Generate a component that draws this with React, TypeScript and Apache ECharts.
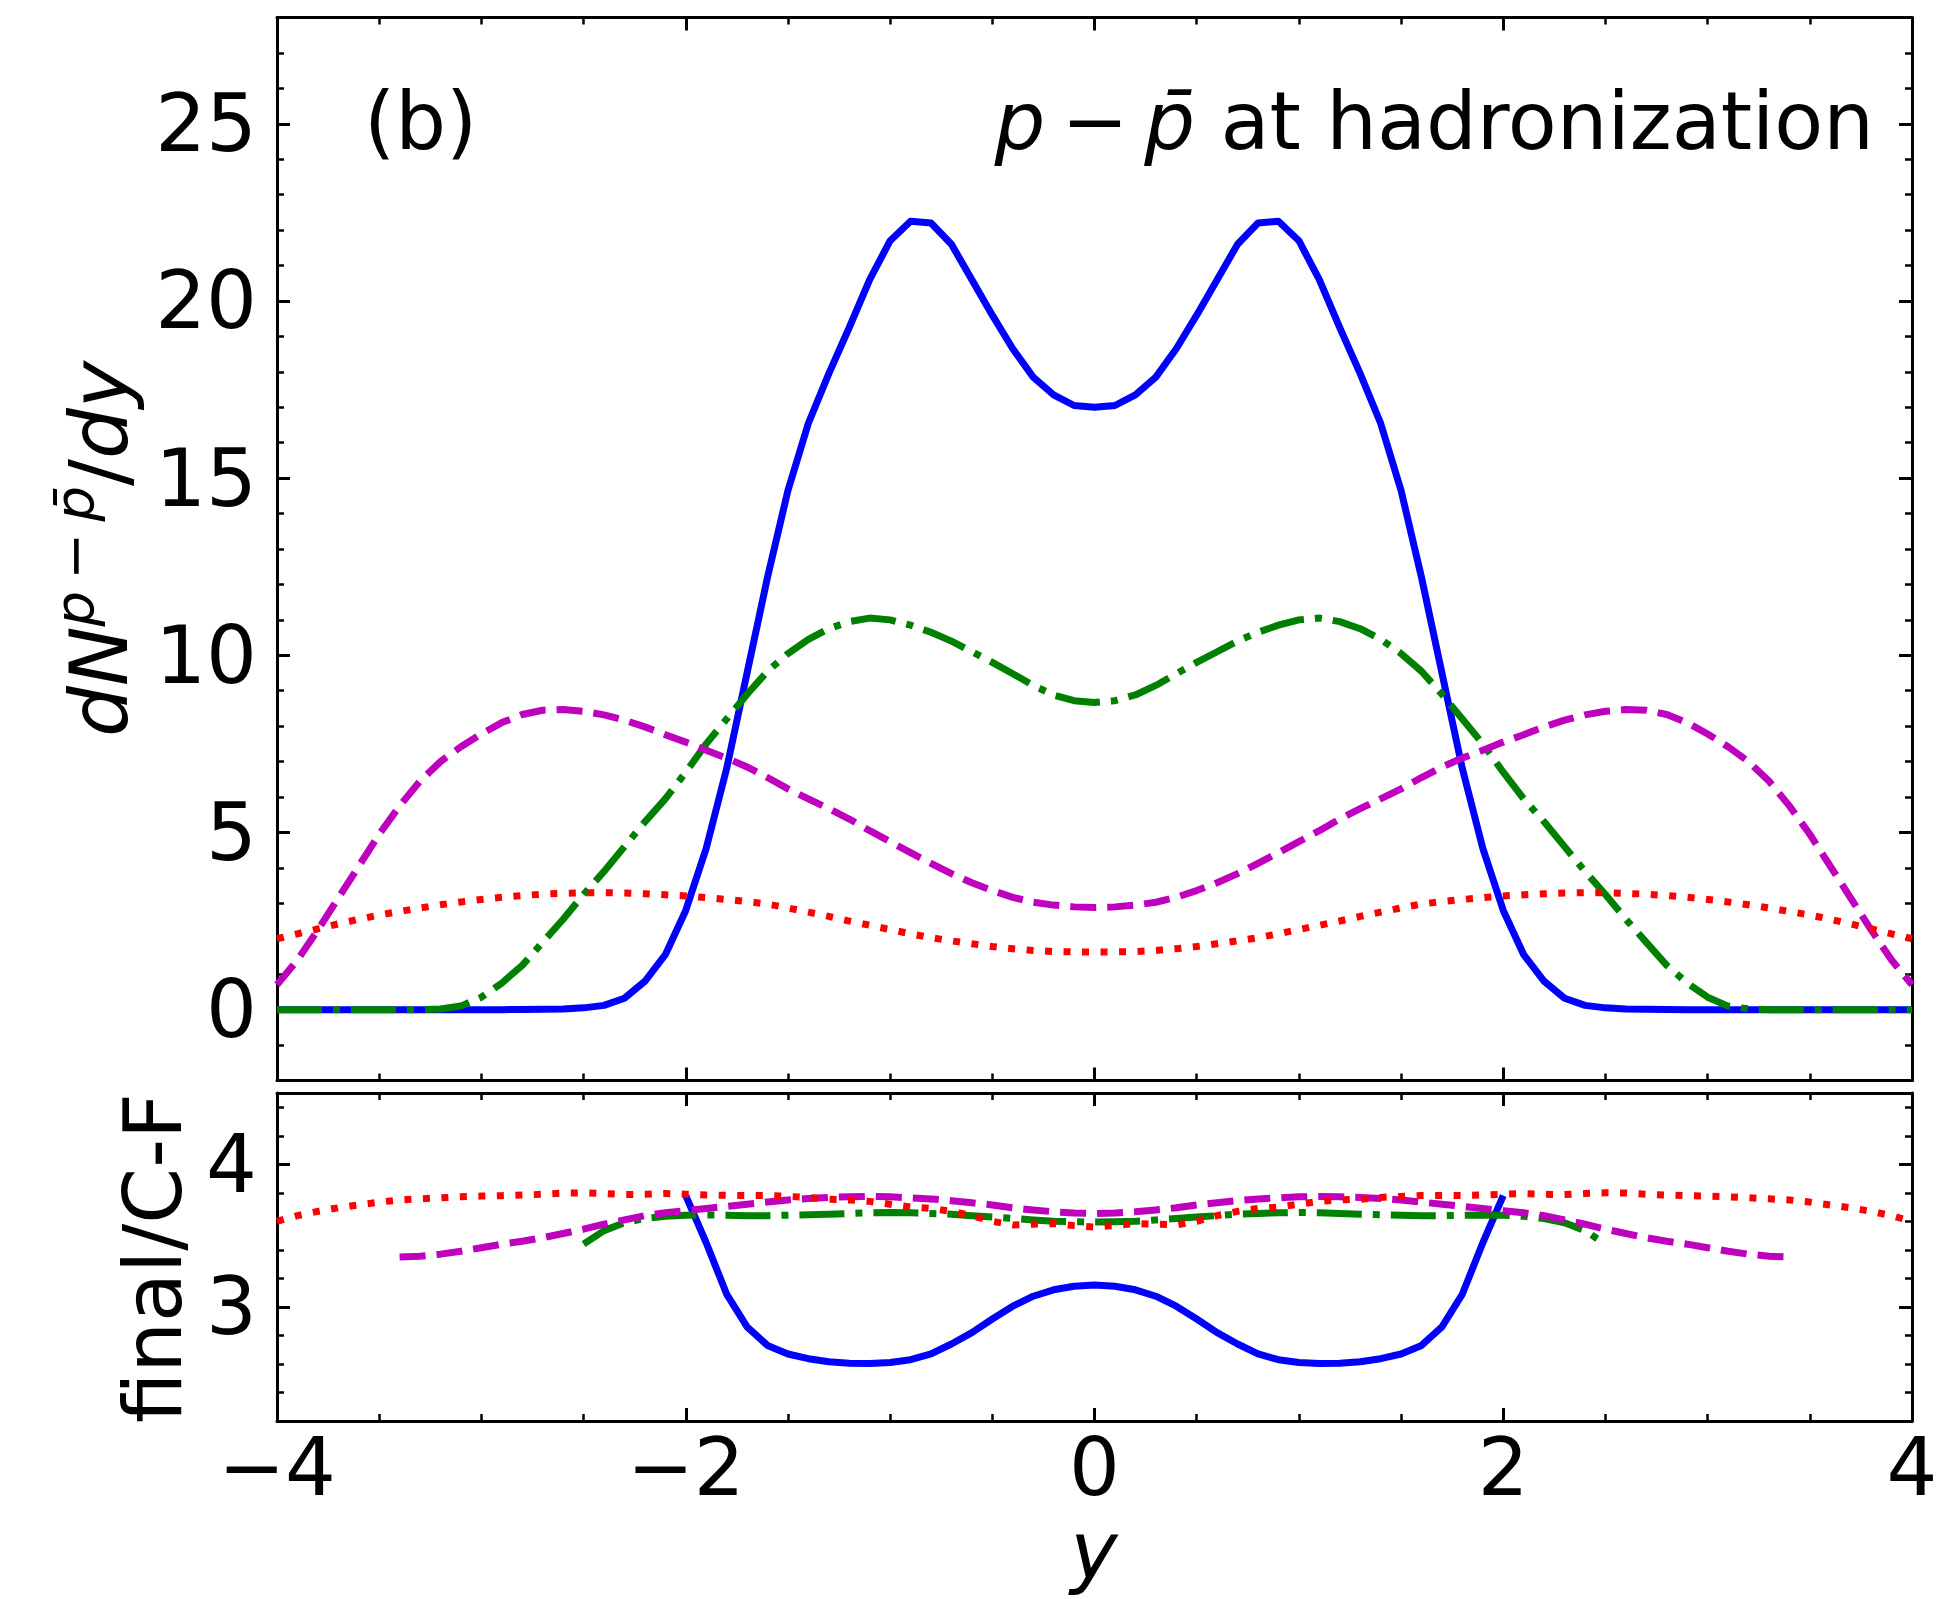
import React, { useEffect, useRef } from 'react';
import * as echarts from 'echarts';

const FONT = 'DejaVu Sans';

// rapidity grid (x values)
const rapidity = [
  -4.0, -3.9, -3.8, -3.7, -3.6, -3.5, -3.4, -3.3, -3.2, -3.1,
  -3.0, -2.9, -2.8, -2.7, -2.6, -2.5, -2.4, -2.3, -2.2, -2.1,
  -2.0, -1.9, -1.8, -1.7, -1.6, -1.5, -1.4, -1.3, -1.2, -1.1,
  -1.0, -0.9, -0.8, -0.7, -0.6, -0.5, -0.4, -0.3, -0.2, -0.1,
  0.0,
  0.1, 0.2, 0.3, 0.4, 0.5, 0.6, 0.7, 0.8, 0.9, 1.0,
  1.1, 1.2, 1.3, 1.4, 1.5, 1.6, 1.7, 1.8, 1.9, 2.0,
  2.1, 2.2, 2.3, 2.4, 2.5, 2.6, 2.7, 2.8, 2.9, 3.0,
  3.1, 3.2, 3.3, 3.4, 3.5, 3.6, 3.7, 3.8, 3.9, 4.0,
];

// top panel: dN^{p-pbar}/dy
const blueTop = [
  0, 0, 0, 0, 0, 0, 0, 0, 0, 0,
  0, 0, 0.005, 0.01, 0.02, 0.05, 0.12, 0.32, 0.8, 1.55,
  2.8, 4.55, 6.8, 9.5, 12.2, 14.65, 16.55, 17.95, 19.25, 20.6,
  21.7, 22.25, 22.2, 21.6, 20.6, 19.6, 18.65, 17.85, 17.35, 17.05,
  17.0,
  17.05, 17.35, 17.85, 18.65, 19.6, 20.6, 21.6, 22.2, 22.25, 21.7,
  20.6, 19.25, 17.95, 16.55, 14.65, 12.2, 9.5, 6.8, 4.55, 2.8,
  1.55, 0.8, 0.32, 0.12, 0.05, 0.02, 0.01, 0.005, 0, 0,
  0, 0, 0, 0, 0, 0, 0, 0, 0, 0,
];

const greenTop = [
  0, 0, 0, 0, 0, 0, 0, 0, 0.02, 0.1,
  0.35, 0.75, 1.25, 1.9, 2.55, 3.25, 3.9, 4.6, 5.3, 5.95,
  6.7, 7.5, 8.2, 8.9, 9.55, 10.05, 10.45, 10.75, 10.95, 11.05,
  11.0, 10.85, 10.65, 10.4, 10.1, 9.8, 9.48, 9.15, 8.88, 8.72,
  8.67,
  8.72, 8.88, 9.15, 9.48, 9.8, 10.1, 10.4, 10.65, 10.85, 11.0,
  11.05, 10.95, 10.75, 10.45, 10.05, 9.55, 8.9, 8.2, 7.5, 6.7,
  5.95, 5.3, 4.6, 3.9, 3.25, 2.55, 1.9, 1.25, 0.75, 0.35,
  0.1, 0.02, 0, 0, 0, 0, 0, 0, 0, 0,
];

const magentaTop = [
  0.7, 1.4, 2.25, 3.15, 4.05, 4.95, 5.75, 6.45, 7.0, 7.42,
  7.78, 8.1, 8.33, 8.45, 8.47, 8.42, 8.32, 8.17, 7.98, 7.76,
  7.55, 7.32, 7.1, 6.85, 6.55, 6.23, 5.95, 5.67, 5.38, 5.05,
  4.74, 4.43, 4.13, 3.84, 3.58, 3.36, 3.17, 3.03, 2.95, 2.9,
  2.88,
  2.9, 2.95, 3.03, 3.17, 3.36, 3.58, 3.84, 4.13, 4.43, 4.74,
  5.05, 5.38, 5.67, 5.95, 6.23, 6.55, 6.85, 7.1, 7.32, 7.55,
  7.76, 7.98, 8.17, 8.32, 8.42, 8.47, 8.45, 8.33, 8.1, 7.78,
  7.42, 7.0, 6.45, 5.75, 4.95, 4.05, 3.15, 2.25, 1.4, 0.7,
];

const redTop = [
  2.0, 2.14, 2.28, 2.42, 2.55, 2.67, 2.77, 2.87, 2.96, 3.04,
  3.11, 3.17, 3.22, 3.26, 3.28, 3.3, 3.3, 3.29, 3.27, 3.24,
  3.21, 3.16, 3.11, 3.05, 2.98, 2.87, 2.75, 2.63, 2.5, 2.38,
  2.26, 2.14, 2.03, 1.94, 1.86, 1.78, 1.72, 1.67, 1.64, 1.63,
  1.63,
  1.63, 1.64, 1.67, 1.72, 1.78, 1.86, 1.94, 2.03, 2.14, 2.26,
  2.38, 2.5, 2.63, 2.75, 2.87, 2.98, 3.05, 3.11, 3.16, 3.21,
  3.24, 3.27, 3.29, 3.3, 3.3, 3.28, 3.26, 3.22, 3.17, 3.11,
  3.04, 2.96, 2.87, 2.77, 2.67, 2.55, 2.42, 2.28, 2.14, 2.0,
];

// bottom panel: final / C-F
const blueRatio = [
  null, null, null, null, null, null, null, null, null, null,
  null, null, null, null, null, null, null, null, null, null,
  3.78, 3.45, 3.09, 2.86, 2.73, 2.67, 2.637, 2.615, 2.605, 2.603,
  2.61, 2.63, 2.67, 2.74, 2.82, 2.915, 3.005, 3.075, 3.12, 3.145,
  3.153,
  3.145, 3.12, 3.075, 3.005, 2.915, 2.82, 2.74, 2.67, 2.63, 2.61,
  2.603, 2.605, 2.615, 2.637, 2.67, 2.73, 2.86, 3.09, 3.45, 3.78,
  null, null, null, null, null, null, null, null, null, null,
  null, null, null, null, null, null, null, null, null, null,
];

const greenRatio = [
  null, null, null, null, null, null, null, null, null, null,
  null, null, null, null, null, 3.44, 3.535, 3.59, 3.62, 3.635,
  3.643, 3.645, 3.643, 3.64, 3.64, 3.643, 3.646, 3.65, 3.655, 3.66,
  3.662, 3.66, 3.655, 3.65, 3.64, 3.63, 3.62, 3.61, 3.6, 3.597,
  3.595,
  3.597, 3.6, 3.61, 3.62, 3.63, 3.64, 3.65, 3.655, 3.66, 3.662,
  3.66, 3.655, 3.65, 3.646, 3.643, 3.64, 3.64, 3.643, 3.645, 3.643,
  3.635, 3.62, 3.59, 3.535, 3.44, null, null, null, null, null,
  null, null, null, null, null, null, null, null, null, null,
];

const magentaRatio = [
  null, null, null, null, null, null, 3.35, 3.355, 3.37, 3.39,
  3.415, 3.44, 3.46, 3.485, 3.515, 3.545, 3.58, 3.61, 3.64, 3.66,
  3.675, 3.69, 3.705, 3.72, 3.735, 3.75, 3.76, 3.768, 3.772, 3.775,
  3.772, 3.765, 3.757, 3.745, 3.73, 3.715, 3.695, 3.68, 3.667, 3.658,
  3.655,
  3.658, 3.667, 3.68, 3.695, 3.715, 3.73, 3.745, 3.757, 3.765, 3.772,
  3.775, 3.772, 3.768, 3.76, 3.75, 3.735, 3.72, 3.705, 3.69, 3.675,
  3.66, 3.64, 3.61, 3.58, 3.545, 3.515, 3.485, 3.46, 3.44, 3.415,
  3.39, 3.37, 3.355, 3.35, null, null, null, null, null, null,
];

const redRatio = [
  3.6, 3.64, 3.67, 3.695, 3.715, 3.735, 3.75, 3.758, 3.765, 3.772,
  3.777, 3.78, 3.784, 3.79, 3.798, 3.8, 3.795, 3.788, 3.79, 3.795,
  3.79, 3.785, 3.782, 3.782, 3.782, 3.775, 3.768, 3.755, 3.75, 3.74,
  3.72, 3.7, 3.69, 3.67, 3.64, 3.6, 3.575, 3.58, 3.585, 3.57,
  3.56,
  3.57, 3.585, 3.58, 3.575, 3.6, 3.64, 3.67, 3.69, 3.7, 3.72,
  3.74, 3.75, 3.755, 3.768, 3.775, 3.782, 3.782, 3.782, 3.785, 3.79,
  3.795, 3.79, 3.788, 3.795, 3.8, 3.798, 3.79, 3.784, 3.78, 3.777,
  3.772, 3.765, 3.758, 3.75, 3.735, 3.715, 3.695, 3.67, 3.64, 3.6,
];

// tick labels
const topYTicks = [0, 5, 10, 15, 20, 25];
const bottomYTicks = [3, 4];

const COLORS = { blue: '#0000ff', green: '#008000', magenta: '#bf00bf', red: '#ff0000' };

const LW = 7;
const DASHED = [26, 11];
const DOTTED = [7, 11.5];
const DASHDOT = [45, 11, 7, 11];

function pairs(ys: (number | null)[]) {
  return rapidity.map((x, i) => [x, ys[i]]);
}

const frameLine = { show: true, onZero: false, lineStyle: { color: '#000', width: 3 } };
const majorTick = { show: true, inside: true, length: 13, lineStyle: { color: '#000', width: 3 } };
const minorTickX = { show: true, splitNumber: 4, length: 7, lineStyle: { color: '#000', width: 2.5 } };

function makeX(gridIndex: number, position: string, showLabels: boolean) {
  return {
    type: 'value',
    gridIndex,
    position,
    min: -4,
    max: 4,
    interval: 2,
    axisLine: frameLine,
    axisTick: majorTick,
    minorTick: minorTickX,
    splitLine: { show: false },
    minorSplitLine: { show: false },
    axisLabel: {
      show: showLabels,
      margin: 6,
      fontSize: 80,
      fontFamily: FONT,
      color: '#000',
      formatter: (v: number) => (v < 0 ? '\u2212' + Math.abs(v) : String(v)),
    },
  };
}

function makeYMajor(gridIndex: number, position: string, min: number, max: number, ticks: number[], showLabels: boolean) {
  return {
    type: 'value',
    gridIndex,
    position,
    min,
    max,
    axisLine: frameLine,
    axisTick: { ...majorTick, customValues: ticks },
    splitLine: { show: false },
    axisLabel: {
      show: showLabels,
      customValues: ticks,
      margin: 20,
      fontSize: 80,
      fontFamily: FONT,
      color: '#000',
    },
  };
}

function makeYMinor(gridIndex: number, position: string, min: number, max: number, interval: number) {
  return {
    type: 'value',
    gridIndex,
    position,
    min,
    max,
    interval,
    axisLine: { show: false, onZero: false },
    axisTick: { show: true, inside: true, length: 7, lineStyle: { color: '#000', width: 2.5 } },
    splitLine: { show: false },
    axisLabel: { show: false },
  };
}

function line(name: string, data: any[], color: string, type: any, xi: number, yi: number) {
  return {
    name,
    type: 'line',
    xAxisIndex: xi,
    yAxisIndex: yi,
    data,
    showSymbol: false,
    symbol: 'none',
    connectNulls: false,
    clip: true,
    lineStyle: { color, width: LW, type, cap: 'butt', join: 'round' },
    silent: true,
  };
}

const option: any = {
  animation: false,
  backgroundColor: '#ffffff',
  textStyle: { fontFamily: FONT },
  grid: [
    { left: 277, top: 17.5, width: 1635, height: 1063, containLabel: false, outerBoundsMode: 'none' },
    { left: 277, top: 1093, width: 1635, height: 328, containLabel: false, outerBoundsMode: 'none' },
  ],
  xAxis: [
    makeX(0, 'bottom', false),
    makeX(0, 'top', false),
    makeX(1, 'bottom', true),
    makeX(1, 'top', false),
  ],
  yAxis: [
    makeYMajor(0, 'left', -2, 28, topYTicks, true),
    makeYMinor(0, 'left', -2, 28, 1),
    makeYMajor(0, 'right', -2, 28, topYTicks, false),
    makeYMinor(0, 'right', -2, 28, 1),
    makeYMajor(1, 'left', 2.2, 4.5, bottomYTicks, true),
    makeYMinor(1, 'left', 2.2, 4.5, 0.2),
    makeYMajor(1, 'right', 2.2, 4.5, bottomYTicks, false),
    makeYMinor(1, 'right', 2.2, 4.5, 0.2),
  ],
  series: [
    line('blueTop', pairs(blueTop), COLORS.blue, 'solid', 0, 0),
    line('greenTop', pairs(greenTop), COLORS.green, DASHDOT, 0, 0),
    line('magentaTop', pairs(magentaTop), COLORS.magenta, DASHED, 0, 0),
    line('redTop', pairs(redTop), COLORS.red, DOTTED, 0, 0),
    line('blueRatio', pairs(blueRatio), COLORS.blue, 'solid', 2, 4),
    line('greenRatio', pairs(greenRatio), COLORS.green, DASHDOT, 2, 4),
    line('magentaRatio', pairs(magentaRatio), COLORS.magenta, DASHED, 2, 4),
    line('redRatio', pairs(redRatio), COLORS.red, DOTTED, 2, 4),
  ],
  graphic: [
    {
      type: 'text',
      x: 364,
      y: 121,
      style: {
        text: '(b)',
        fontSize: 80,
        fontFamily: FONT,
        fill: '#000',
        align: 'left',
        verticalAlign: 'middle',
        textAlign: 'left',
        textVerticalAlign: 'middle',
      },
    },
    {
      type: 'text',
      x: 1874,
      y: 121,
      style: {
        text: '{i|p}\u2009\u2212\u2009{i|p\u0304} at hadronization',
        fontSize: 80,
        fontFamily: FONT,
        fill: '#000',
        align: 'right',
        verticalAlign: 'middle',
        textAlign: 'right',
        textVerticalAlign: 'middle',
        rich: {
          i: { fontSize: 80, fontFamily: FONT, fontStyle: 'italic', fill: '#000' },
        },
      },
    },
    {
      type: 'text',
      x: 99,
      y: 549,
      rotation: Math.PI / 2,
      style: {
        text: '{m|dN}{s|p\u2009\u2212\u2009p\u0304}{u|/}{m|dy}',
        fill: '#000',
        align: 'center',
        verticalAlign: 'middle',
        textAlign: 'center',
        textVerticalAlign: 'middle',
        rich: {
          m: { fontSize: 80, fontFamily: FONT, fontStyle: 'italic', lineHeight: 106, fill: '#000' },
          s: { fontSize: 56, fontFamily: FONT, fontStyle: 'italic', lineHeight: 57, verticalAlign: 'top', fill: '#000' },
          u: { fontSize: 80, fontFamily: FONT, lineHeight: 106, fill: '#000' },
        },
      },
    },
    {
      type: 'text',
      x: 153,
      y: 1258,
      rotation: Math.PI / 2,
      style: {
        text: 'final/C-F',
        fontSize: 80,
        fontFamily: FONT,
        fill: '#000',
        align: 'center',
        verticalAlign: 'middle',
        textAlign: 'center',
        textVerticalAlign: 'middle',
      },
    },
    {
      type: 'text',
      x: 1094,
      y: 1550,
      style: {
        text: 'y',
        fontSize: 80,
        lineHeight: 50,
        fontFamily: FONT,
        fontStyle: 'italic',
        fill: '#000',
        align: 'center',
        verticalAlign: 'middle',
        textAlign: 'center',
        textVerticalAlign: 'middle',
      },
    },
  ],
};

export default function App() {
  const ref = useRef<HTMLDivElement>(null);
  useEffect(() => {
    const chart = echarts.init(ref.current as HTMLDivElement, null, { renderer: 'svg' });
    chart.setOption(option);
    return () => {
      chart.dispose();
    };
  }, []);
  return (
    <div
      ref={ref}
      style={{ position: 'absolute', left: 0, top: 0, width: 1957, height: 1599, background: '#fff' }}
    />
  );
}
